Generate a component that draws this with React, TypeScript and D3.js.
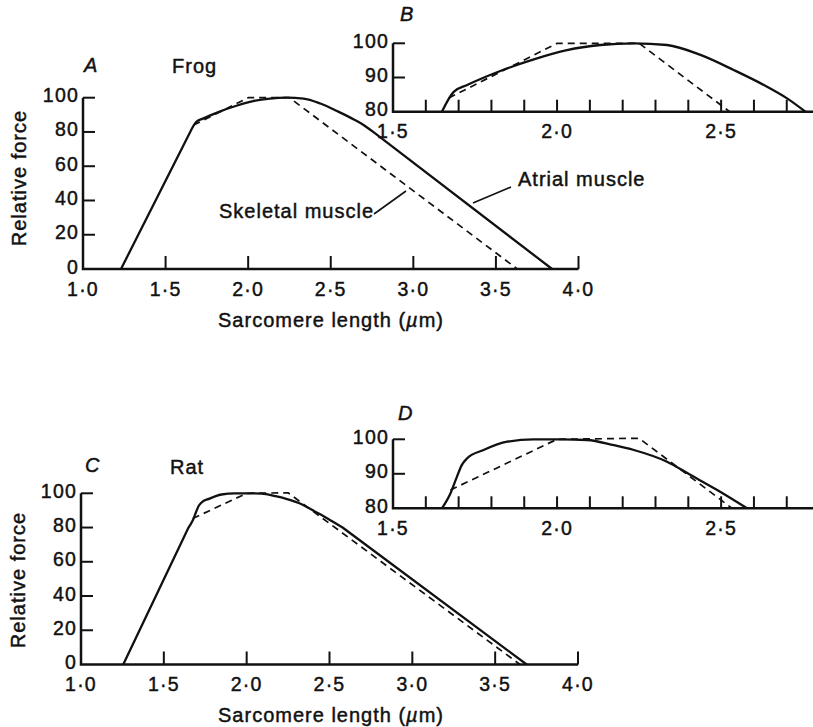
import * as d3 from "d3";

type Pt = [number, number];

// tick values
const mainXTicks = [1.0, 1.5, 2.0, 2.5, 3.0, 3.5, 4.0];
const mainYTicks = [0, 20, 40, 60, 80, 100];
const insetXTicks = [1.5, 1.6, 1.7, 1.8, 1.9, 2.0, 2.1, 2.2, 2.3, 2.4, 2.5, 2.6, 2.7];
const insetXLabels = [1.5, 2.0, 2.5];
const insetYTicks = [80, 90, 100];

// frog: sarcomere length (um) vs relative force
const frogAtrial: Pt[] = [
  [1.23, 0], [1.649, 80], [1.685, 85.8], [1.726, 87.8], [1.827, 91.9], [1.929, 95.3],
  [2.03, 98.0], [2.132, 99.5], [2.234, 100], [2.335, 99.5], [2.437, 96.6], [2.538, 92.2],
  [2.64, 87.3], [2.701, 83.9], [2.757, 80], [3.84, 0],
];
const frogSkeletal: Pt[] = [[1.67, 84], [2.0, 100], [2.25, 100], [3.63, 0]];

// rat
const ratAtrial: Pt[] = [
  [1.255, 0], [1.649, 80], [1.675, 84.3], [1.695, 89.2], [1.71, 92.6], [1.726, 94.5],
  [1.776, 96.9], [1.848, 99.3], [1.929, 100], [2.01, 100], [2.091, 99.8], [2.173, 98.3],
  [2.234, 96.9], [2.335, 93.5], [2.406, 89.7], [2.488, 85.3], [2.579, 80], [3.69, 0],
];
const ratSkeletal: Pt[] = [[1.675, 85.3], [2.0, 100], [2.25, 100.3], [3.65, 0]];

const FONT = "'Liberation Sans', Arial, Helvetica, sans-serif";
const fmt = (v: number) => v.toFixed(1).replace(".", "\u00b7");

interface PanelProps {
  id: string;
  xDomain: [number, number];
  xRange: [number, number];
  yDomain: [number, number];
  yRange: [number, number];
  xTicks: number[];
  xLabels: number[];
  yTicks: number[];
  solid: Pt[];
  dashed: Pt[];
  xTickLen: number;
}

function Panel(p: PanelProps) {
  const x = d3.scaleLinear().domain(p.xDomain).range(p.xRange);
  const y = d3.scaleLinear().domain(p.yDomain).range(p.yRange);
  const smooth = d3.line<Pt>().x(d => x(d[0])).y(d => y(d[1])).curve(d3.curveMonotoneX);
  const straight = d3.line<Pt>().x(d => x(d[0])).y(d => y(d[1]));
  const [bx, ex] = p.xRange;
  const [by, ty] = p.yRange;
  // rising and falling limbs are straight, the top is smooth
  const s = p.solid;
  const solidD = (straight(s.slice(0, 2)) || "") + (smooth(s.slice(1, -1)) || "") + (straight(s.slice(-2)) || "");

  return (
    <g>
      <defs>
        <clipPath id={p.id}>
          <rect x={bx} y={ty - 20} width={ex - bx + 2} height={by - ty + 20} />
        </clipPath>
      </defs>
      <g clipPath={`url(#${p.id})`} fill="none" stroke="#111" strokeLinecap="round" strokeLinejoin="round">
        <path d={solidD} strokeWidth={2.3} />
        <path d={straight(p.dashed) || ""} strokeWidth={1.7} strokeDasharray="7,5" strokeLinecap="butt" />
      </g>
      <path d={`M${bx},${ty}V${by}H${ex}`} fill="none" stroke="#111" strokeWidth={2.5} />
      {p.xTicks.filter(v => v > p.xDomain[0]).map(v => (
        <line key={v} x1={x(v)} x2={x(v)} y1={by} y2={by - p.xTickLen} stroke="#111" strokeWidth={2} />
      ))}
      {p.yTicks.filter(v => v > p.yDomain[0]).map(v => (
        <line key={v} x1={bx} x2={bx + 12} y1={y(v)} y2={y(v)} stroke="#111" strokeWidth={2} />
      ))}
      <g fontFamily={FONT} fontSize={19.5} fill="#111" stroke="#111" strokeWidth={0.45} letterSpacing={1.2}>
        {p.xLabels.map(v => (
          <text key={v} x={x(v)} y={by + 26.5} textAnchor="middle">{fmt(v)}</text>
        ))}
        {p.yTicks.map(v => (
          <text key={v} x={bx - 4} y={y(v) + 4.5} textAnchor="end">{v}</text>
        ))}
      </g>
    </g>
  );
}

export default function App() {
  const txt = { fontFamily: FONT, fontSize: 20, fill: "#111", stroke: "#111", strokeWidth: 0.45, letterSpacing: 1 } as const;
  return (
    <svg width={813} height={727} style={{ position: "absolute", left: 0, top: 0, background: "#fff" }}>
      {/* A: frog, full range */}
      <Panel id="clipA" xDomain={[1, 4]} xRange={[83, 578.5]} yDomain={[0, 100]} yRange={[269, 97.7]}
        xTicks={mainXTicks} xLabels={mainXTicks} yTicks={mainYTicks}
        solid={frogAtrial} dashed={frogSkeletal} xTickLen={13} />
      {/* B: frog, top of curve */}
      <Panel id="clipB" xDomain={[1.5, 2.78]} xRange={[393, 813]} yDomain={[80, 100]} yRange={[111.7, 43.3]}
        xTicks={insetXTicks} xLabels={insetXLabels} yTicks={insetYTicks}
        solid={frogAtrial} dashed={frogSkeletal} xTickLen={12} />
      {/* C: rat, full range */}
      <Panel id="clipC" xDomain={[1, 4]} xRange={[81, 578]} yDomain={[0, 100]} yRange={[664.5, 493.3]}
        xTicks={mainXTicks} xLabels={mainXTicks} yTicks={mainYTicks}
        solid={ratAtrial} dashed={ratSkeletal} xTickLen={13} />
      {/* D: rat, top of curve */}
      <Panel id="clipD" xDomain={[1.5, 2.78]} xRange={[393, 813]} yDomain={[80, 100]} yRange={[508.3, 439.3]}
        xTicks={insetXTicks} xLabels={insetXLabels} yTicks={insetYTicks}
        solid={ratAtrial} dashed={ratSkeletal} xTickLen={12} />

      <g {...txt}>
        <text x={84} y={72} fontStyle="italic">A</text>
        <text x={172} y={73}>Frog</text>
        <text x={400} y={21} fontStyle="italic">B</text>
        <text x={85} y={472} fontStyle="italic">C</text>
        <text x={170} y={474}>Rat</text>
        <text x={398} y={420} fontStyle="italic">D</text>

        <text x={219} y={218}>Skeletal muscle</text>
        <text x={518} y={186}>Atrial muscle</text>

        <text x={331} y={327} textAnchor="middle">
          Sarcomere length (<tspan fontStyle="italic">µ</tspan>m)
        </text>
        <text x={331} y={722} textAnchor="middle">
          Sarcomere length (<tspan fontStyle="italic">µ</tspan>m)
        </text>
        <text transform="translate(26,178) rotate(-90)" textAnchor="middle">Relative force</text>
        <text transform="translate(25,580) rotate(-90)" textAnchor="middle">Relative force</text>
      </g>
      <g stroke="#111" strokeWidth={1.6}>
        <line x1={374} y1={214} x2={406} y2={191} />
        <line x1={473} y1={203} x2={511} y2={187} />
      </g>
    </svg>
  );
}
